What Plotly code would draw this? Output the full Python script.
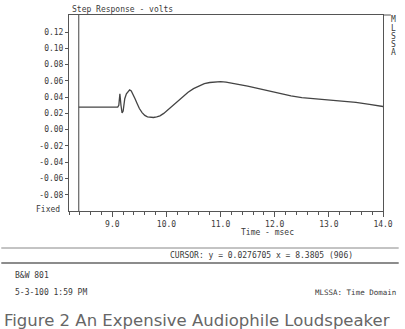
import plotly.graph_objects as go

# ---- data ----
time_ms = [8.38, 9.10, 9.12, 9.14, 9.16, 9.18, 9.20, 9.23, 9.26, 9.29, 9.32, 9.35,
           9.38, 9.42, 9.46, 9.50, 9.55, 9.60, 9.65, 9.70, 9.76, 9.82, 9.88, 9.95,
           10.02, 10.10, 10.20, 10.30, 10.40, 10.50, 10.60, 10.70, 10.80, 10.90,
           11.00, 11.10, 11.20, 11.35, 11.50, 11.70, 11.90, 12.10, 12.30, 12.50,
           12.75, 13.00, 13.25, 13.50, 13.75, 14.00]
volts = [0.0277, 0.0277, 0.0300, 0.0440, 0.0300, 0.0205, 0.0230, 0.0380, 0.0440,
         0.0470, 0.0490, 0.0475, 0.0440, 0.0380, 0.0320, 0.0260, 0.0210, 0.0175,
         0.0158, 0.0152, 0.0150, 0.0158, 0.0170, 0.0200, 0.0240, 0.0290, 0.0350,
         0.0410, 0.0460, 0.0505, 0.0540, 0.0565, 0.0580, 0.0588, 0.0590, 0.0585,
         0.0575, 0.0555, 0.0535, 0.0505, 0.0470, 0.0440, 0.0415, 0.0395, 0.0380,
         0.0368, 0.0355, 0.0335, 0.0310, 0.0285]
cursor_x = 8.3805
y_tickvals = [0.12, 0.10, 0.08, 0.06, 0.04, 0.02, 0.00, -0.02, -0.04, -0.06, -0.08]
y_ticktext = ["0.12", "0.10", "0.08", "0.06", "0.04", "0.02", "0.00",
              "-0.02", "-0.04", "-0.06", "-0.08"]
x_tickvals = [9.0, 10.0, 11.0, 12.0, 13.0, 14.0]
x_ticktext = ["9.0", "10.0", "11.0", "12.0", "13.0", "14.0"]

W, H = 405, 329
L, R, T, B = 69, 389, 15, 211
MONO = "DejaVu Sans Mono"
INK = "#3a3a3a"


def px(x):
    return (x - L) / (R - L)


def py(y):
    return (B - y) / (B - T)


fig = go.Figure()
fig.add_trace(go.Scatter(x=time_ms, y=volts, mode="lines",
                         line=dict(color="#444444", width=1.3), hoverinfo="skip"))

fig.update_layout(
    width=W, height=H,
    margin=dict(l=L, r=W - R, t=T, b=H - B),
    paper_bgcolor="white", plot_bgcolor="white",
    showlegend=False,
    font=dict(family=MONO, size=8, color=INK),
    xaxis=dict(range=[8.2, 14.0], tickvals=x_tickvals, ticktext=x_ticktext,
               ticks="outside", ticklen=5, tickcolor="#555", tickwidth=1,
               minor=dict(dtick=0.2, tick0=8.2, ticks="outside", ticklen=3,
                          tickcolor="#555", tickwidth=1),
               showgrid=False, zeroline=False, showline=True, linecolor="#555",
               linewidth=1, mirror=True, tickfont=dict(family=MONO, size=8, color=INK)),
    yaxis=dict(range=[-0.10, 0.141], tickvals=y_tickvals, ticktext=y_ticktext,
               ticks="outside", ticklen=3, tickcolor="#555", tickwidth=1,
               showgrid=False, zeroline=False, showline=True, linecolor="#555",
               linewidth=1, mirror=True, tickfont=dict(family=MONO, size=8, color=INK)),
)

# cursor line
fig.add_shape(type="line", xref="x", yref="paper", x0=cursor_x, x1=cursor_x,
              y0=0, y1=1, line=dict(color="#444", width=1))
# top frame extension to right label
fig.add_shape(type="line", xref="paper", yref="paper", x0=1, x1=px(397),
              y0=1, y1=1, line=dict(color="#555", width=1))
# separator lines
fig.add_shape(type="line", xref="paper", yref="paper", x0=px(0), x1=px(405),
              y0=py(248), y1=py(248), line=dict(color="#888", width=1))
fig.add_shape(type="line", xref="paper", yref="paper", x0=px(0), x1=px(405),
              y0=py(263), y1=py(263), line=dict(color="#666", width=1.5))


def note(text, x, y, xanchor="left", size=8, family=MONO, color=INK):
    fig.add_annotation(text=text, xref="paper", yref="paper", x=px(x), y=py(y),
                       xanchor=xanchor, yanchor="middle", showarrow=False,
                       font=dict(family=family, size=size, color=color))


note("Step Response - volts", 70, 9)
note("Fixed", 62, 209, xanchor="right")
note("Time - msec", 271, 232, xanchor="center")
note("CURSOR: y = 0.0276705 x = 8.3805 (906)", 265, 255.5, xanchor="center")
note("B&W 801", 12, 275)
note("5-3-100 1:59 PM", 12, 292)
note("MLSSA: Time Domain", 404, 292, xanchor="right", size=7.5)
for i, ch in enumerate("MLSSA"):
    note(ch, 400, 20 + 8.2 * i, xanchor="center")
note("Figure 2 An Expensive Audiophile Loudspeaker", 1, 320, size=16.5,
     family="DejaVu Sans", color="#666")

fig.write_html(
    "out.html",
    config={"displayModeBar": False},
    post_script="document.body.style.margin='0';document.body.style.overflow='hidden';",
)
